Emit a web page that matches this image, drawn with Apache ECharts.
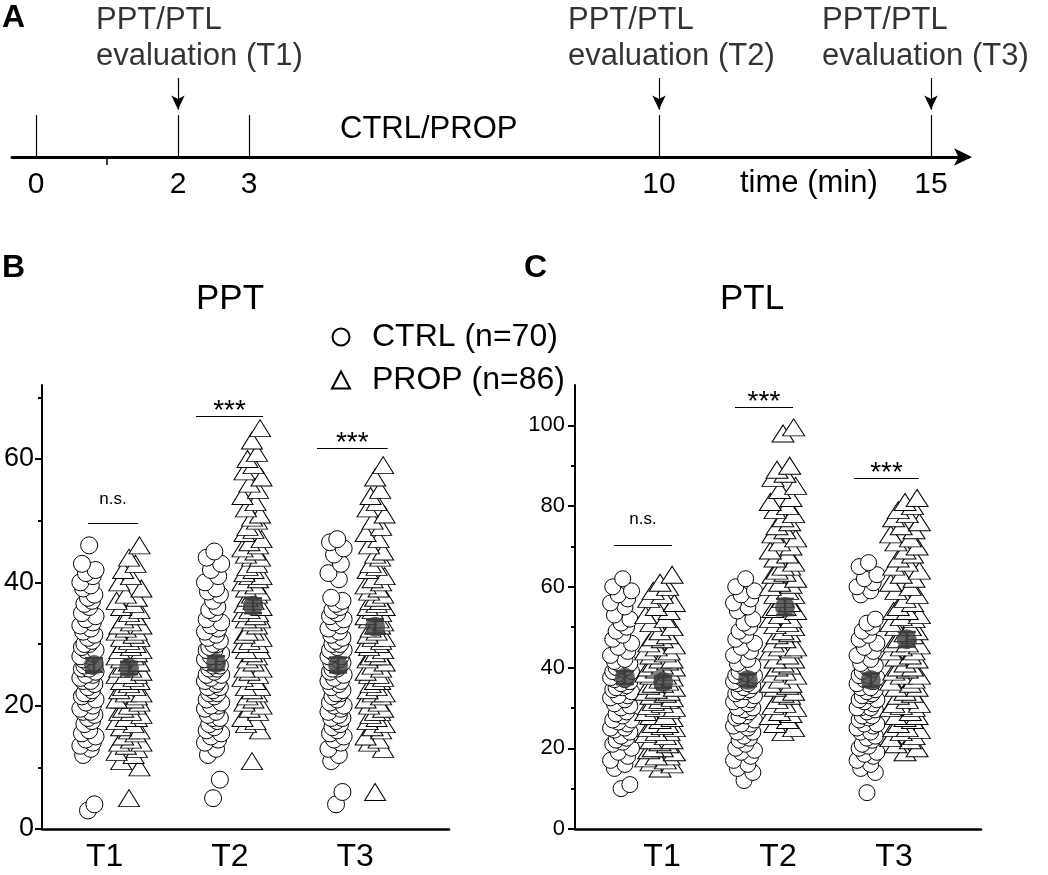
<!DOCTYPE html>
<html><head><meta charset="utf-8">
<script src="https://cdn.jsdelivr.net/npm/echarts@6/dist/echarts.min.js"></script>
<style>html,body{margin:0;padding:0;background:#fff}#c{width:1048px;height:875px}</style>
</head><body><div id="c"></div>
<script>
// ---------- DATA ----------
const timepoints = ['T1', 'T2', 'T3'];
const timelineTicks = [0, 2, 3, 10, 15];
const timelineMinor = [1];
const evalTimes = [2, 10, 15];
const evalLabels = ['PPT/PTL\nevaluation (T1)', 'PPT/PTL\nevaluation (T2)', 'PPT/PTL\nevaluation (T3)'];
const ctrlName = 'CTRL (n=70)';
const propName = 'PROP (n=86)';

const pptCtrlT1 = [3,4,12,13,13.5,14,14.5,15,15.5,16,17,17.5,18,18.5,19,19,19.5,20,20.5,21,21.5,22,22,22.5,23,23.5,24,24,24.5,25,25,25.5,26,26,26.5,26.5,27,27,27.5,28,28,28.5,29,29,29.5,30,30,30.5,31,31.5,32,32.5,33,33.5,34,34.5,35,36,36.5,37,37.5,38,39,39.5,40,41,41.5,42,43,46];
const pptPropT1 = [5,10,11,12,12.5,13,13.5,14,14,14.5,15,15.5,16,16,16.5,17,17.5,18,18,18.5,19,19,19.5,20,20,20.5,21,21,21.5,22,22,22.5,23,23,23.5,24,24,24.5,25,25,25.5,26,26,26.5,27,27,27.5,28,28,28.5,29,29,29.5,30,30,30.5,31,31,31.5,32,32,32.5,33,33.5,34,34.5,35,35.5,36,36.5,37,37.5,38,39,40,41,42,43,44,46,29,25,23,21,27,33];
const pptCtrlT2 = [5,8,12,13,14,14.5,15,15.5,16,16.5,17,17.5,18,18,18.5,19,19.5,20,20,20.5,21,21.5,22,22,22.5,23,23.5,24,24,24.5,25,25,25.5,26,26,26.5,27,27,27.5,28,28,28.5,29,29,29.5,30,30,30.5,31,31.5,32,32.5,33,33.5,34,35,35.5,36,37,38,38.5,39,40,41,42,43,44,45,26.5,23];
const pptPropT2 = [11,16,17,17.5,18,19,19.5,20,20.5,21,21.5,22,22.5,23,23,24,24.5,25,25.5,26,26,27,27.5,28,28.5,29,29,30,30,30.5,31,31.5,32,32,33,33.5,34,34,34.5,35,35,35.5,36,36.5,37,37.5,38,38,38.5,39,39.5,40,40.5,41,41,41.5,42,42.5,43,44,44,44.5,45,45.5,46,46.5,47,48,48.5,49,50,50.5,51,52,53,54,55,56,57,58,59,60,61,63,65,30];
const pptCtrlT3 = [4,6,11,12,13,14,14.5,15,15.5,16,16.5,17,17.5,18,18,18.5,19,19.5,20,20,20.5,21,21.5,22,22,22.5,23,23.5,24,24,24.5,25,25.5,26,26,26.5,27,27,27.5,28,28,28.5,29,29.5,30,30,30.5,31,31.5,32,32.5,33,33.5,34,34.5,35,35.5,36,36.5,37,37.5,40.5,41.5,43,44.5,45.5,46.5,47,26.5,29];
const pptPropT3 = [6,13,14,14.5,15,16,16.5,17,17.5,18,18.5,19,19.5,20,20.5,21,21.5,22,22.5,23,23.5,24,24,24.5,25,25.5,26,26.5,27,27.5,28,28,28.5,29,29.5,30,30,30.5,31,31.5,32,32.5,33,33,33.5,34,34.5,35,35.5,36,36,36.5,37,37.5,38,38.5,39,39.5,40,40.5,41,42,42.5,43,44,44.5,45,46,47,48,49,50,51,52,53,54,55,57,59,25,31,34,37,22,19,28];

const ptlCtrlT1 = [10,11,15,16,17,18,19,20,21,21.5,22,22.5,23,24,24.5,25,25,26,26.5,27,27,28,28.5,29,30,30.5,31,32,32.5,33,33,34,34.5,35,35,35.5,36,36.5,37,37,37.5,38,38.5,39,39,39.5,40,40,40.5,41,41.5,42,43,44,45,46,47,48,49,50,51,52,53,55,56,57,58,59,60,62];
const ptlPropT1 = [15,16,16.5,17,17.5,18,18,19,19.5,20,20,21,21.5,22,22,23,23.5,24,24,25,25,25.5,26,26,27,27.5,28,28,29,29.5,30,30,30.5,31,31.5,32,32,32.5,33,33.5,34,34,34.5,35,35.5,36,36,36.5,37,37.5,38,38,38.5,39,39.5,40,40,40.5,41,41.5,42,42,43,43.5,44,44,45,45.5,46,47,47.5,48,49,50,51,52,53,54,55,56,57,58,59,60,61,63];
const ptlCtrlT2 = [12,14,15,16,17,18,19,19.5,20,21,22,22.5,23,24,24,25,25.5,26,26,27,27.5,28,28,29,29.5,30,30,31,31.5,32,32,33,33.5,34,34,34.5,35,35.5,36,36,36.5,37,37.5,38,38,38.5,39,40,40,40.5,41,42,43,44,45,46,47,48,49,50,51,52,54,55,56,57,58,59,60,62];
const ptlPropT2 = [24,25,26,27,28,28.5,29,30,30.5,31,32,33,33.5,34,35,35.5,36,37,38,38.5,39,40,40.5,41,42,43,44,44.5,45,46,47,48,48.5,49,50,50.5,51,52,53,54,54.5,55,56,57,58,59,60,60.5,61,62,63,63.5,64,65,66,67,68,69,70,71,72,73,74,75,76,77,78,79,80,81,82,84,85,87,88,89,90,98,99.5,45,52,36,58,65,42,55];
const ptlCtrlT3 = [9,14,15,16,17,18,18.5,19,20,20.5,21,22,22.5,23,24,24,25,25.5,26,26,27,27.5,28,28,29,29.5,30,30,31,31.5,32,32,33,33.5,34,34.5,35,35,36,36.5,37,37.5,38,38,39,39.5,40,40.5,41,42,43,44,45,46,47,48,49,50,51,52,58,59,60,61,62,63,65,66,33,30];
const ptlPropT3 = [19,20,21,22,22.5,23,24,24.5,25,26,27,27.5,28,29,30,30.5,31,32,33,33.5,34,35,36,36.5,37,38,39,39.5,40,41,42,42.5,43,44,45,45.5,46,47,48,48.5,49,50,51,52,52.5,53,54,55,56,57,58,59,60,61,62,63,64,65,66,67,68,69,70,71,72,73,74,75,76,77,78,79,80,81,82,28,35,40,44,50,25,31,46,38,54,30];

// means and SEM
const pptCtrlMean = [26.6, 26.9, 26.6];
const pptPropMean = [26.1, 36.2, 32.8];
const pptCtrlSem = [1.1, 1.1, 1.2];
const pptPropSem = [1.0, 1.2, 1.1];
const ptlCtrlMean = [37.5, 36.9, 36.9];
const ptlPropMean = [36.4, 55.0, 47.0];
const ptlCtrlSem = [1.6, 1.5, 1.6];
const ptlPropSem = [1.4, 2.0, 1.8];

const pptSigText = ['n.s.', '***', '***'];
const pptSigLevel = [49.6, 67.0, 61.8];
const ptlSigText = ['n.s.', '***', '***'];
const ptlSigLevel = [70.4, 104.5, 87.0];

// ---------- LAYOUT ----------
const FONT = 'Liberation Sans, Arial, sans-serif';
const jitterPattern = [0, 0.8, -0.6, 0.35, -0.95, 0.6, -0.25, 0.95, -0.75, 0.15, -0.45, 0.5];
const layoutB = {
  ctrlX: [0.867, 1.866, 2.848], ctrlHW: [0.064, 0.068, 0.064],
  propX: [1.195, 2.177, 3.16], propHW: [0.104, 0.08, 0.08],
  ctrlMeanX: [0.915, 1.89, 2.864], propMeanX: [1.195, 2.185, 3.16],
  sigX: [[0.867, 1.267], [1.73, 2.265], [2.696, 3.26]],
  sigDist: [15, -9, -9]
};
const layoutC = {
  ctrlX: [0.647, 1.707, 2.767], ctrlHW: [0.095, 0.095, 0.09],
  propX: [0.983, 2.043, 3.095], propHW: [0.13, 0.115, 0.13],
  ctrlMeanX: [0.68, 1.74, 2.80], propMeanX: [1.01, 2.06, 3.11],
  sigX: [[0.586, 1.086], [1.629, 2.129], [2.655, 3.216]],
  sigDist: [17, -9, -9]
};
const timelineRanges = [[0, 3], [3, 10], [10, 15]];
const evalLabelDx = [-82, -91, -109];

function swarm(values, cx, hw) {
  const s = values.slice().sort((a, b) => a - b);
  return s.map((v, i) => [cx + jitterPattern[i % jitterPattern.length] * hw, v]);
}

const chart = echarts.init(document.getElementById('c'), null, {renderer: 'canvas'});

const grids = [
  {left: 12, width: 956, top: 78, height: 79},   // 0 arrow
  {left: 36, width: 213, top: 78, height: 79},   // 1 0..3
  {left: 249, width: 410, top: 78, height: 79},  // 2 3..10
  {left: 659, width: 272, top: 78, height: 79},  // 3 10..15
  {left: 42, right: 599, top: 385, bottom: 46},  // 4 PPT
  {left: 575, right: 67, top: 385, bottom: 46}   // 5 PTL
];

const hiddenY = i => ({gridIndex: i, type: 'value', min: 0, max: 1, show: false});
const xAxes = [
  {gridIndex: 0, type: 'value', min: 0, max: 1,
   axisLine: {show: true, lineStyle: {color: '#000', width: 3}, symbol: ['none', 'arrow'], symbolSize: [13, 18], symbolOffset: [0, 4]},
   axisTick: {show: false}, axisLabel: {show: false}, splitLine: {show: false}}
];
timelineRanges.forEach((r, k) => {
  const labs = timelineTicks.filter(t => k === 0 ? (t >= r[0] && t <= r[1]) : (t > r[0] && t <= r[1]));
  const mins = timelineMinor.filter(t => t > r[0] && t < r[1]);
  xAxes.push({gridIndex: k + 1, type: 'value', min: r[0], max: r[1],
    axisLine: {show: false},
    axisTick: {show: mins.length > 0, customValues: mins, length: 8, lineStyle: {color: '#000', width: 1.5}},
    axisLabel: {show: labs.length > 0, customValues: labs, fontSize: 30, fontFamily: FONT, color: '#000', margin: 13},
    splitLine: {show: false}});
});
const catFmt = v => timepoints[Math.round(v) - 1] || '';
xAxes.push({gridIndex: 4, type: 'value', min: 0.5, max: 3.75,
  axisLine: {lineStyle: {color: '#000', width: 2.5}}, axisTick: {show: false},
  axisLabel: {customValues: [1, 2, 3], formatter: catFmt, fontSize: 32, fontFamily: FONT, color: '#000', margin: 12},
  splitLine: {show: false}});
xAxes.push({gridIndex: 5, type: 'value', min: 0.25, max: 3.75,
  axisLine: {lineStyle: {color: '#000', width: 2.5}}, axisTick: {show: false},
  axisLabel: {customValues: [1, 2, 3], formatter: catFmt, fontSize: 32, fontFamily: FONT, color: '#000', margin: 12},
  splitLine: {show: false}});

const yAxes = [hiddenY(0), hiddenY(1), hiddenY(2), hiddenY(3)];
yAxes.push({gridIndex: 4, type: 'value', min: 0, max: 72, position: 'left',
  axisLine: {show: true, lineStyle: {color: '#000', width: 2}},
  axisTick: {show: true, customValues: [0, 20, 40, 60], length: 7, lineStyle: {color: '#000', width: 2}},
  axisLabel: {customValues: [0, 20, 40, 60], fontSize: 27, fontFamily: FONT, color: '#000', margin: 8},
  splitLine: {show: false}});
yAxes.push({gridIndex: 5, type: 'value', min: 0, max: 110, position: 'left',
  axisLine: {show: true, lineStyle: {color: '#000', width: 2}},
  axisTick: {show: true, customValues: [0, 20, 40, 60, 80, 100], length: 7, lineStyle: {color: '#000', width: 2}},
  axisLabel: {customValues: [0, 20, 40, 60, 80, 100], fontSize: 22, fontFamily: FONT, color: '#000', margin: 10},
  splitLine: {show: false}});
yAxes.push({gridIndex: 4, type: 'value', min: 0, max: 72, position: 'left', offset: 0, axisLine: {show: false},
  axisTick: {show: true, customValues: [10, 30, 50, 70], length: 4, lineStyle: {color: '#000', width: 2}},
  axisLabel: {show: false}, splitLine: {show: false}});
yAxes.push({gridIndex: 5, type: 'value', min: 0, max: 110, position: 'left', offset: 0, axisLine: {show: false},
  axisTick: {show: true, customValues: [10, 30, 50, 70, 90], length: 4, lineStyle: {color: '#000', width: 2}},
  axisLabel: {show: false}, splitLine: {show: false}});

const series = [];
// timeline marks
timelineRanges.forEach((r, k) => {
  const inR = t => k === 0 ? (t >= r[0] && t <= r[1]) : (t > r[0] && t <= r[1]);
  const marks = timelineTicks.filter(inR);
  const evs = evalTimes.map((t, i) => ({t, i})).filter(e => inR(e.t));
  const mlData = marks.map(t => [{coord: [t, 0]}, {coord: [t, 0.53]}]);
  evs.forEach(e => mlData.push([{coord: [e.t, 0.6], symbol: 'arrow'}, {coord: [e.t, 1]}]));
  series.push({
    type: 'scatter', xAxisIndex: k + 1, yAxisIndex: k + 1, silent: true,
    symbolSize: 0,
    data: evs.map(e => ({value: [e.t, 1], label: {offset: [evalLabelDx[e.i], 0], formatter: evalLabels[e.i]}})),
    label: {show: true, position: 'top', align: 'left', distance: 4, fontSize: 31, lineHeight: 36, fontFamily: FONT, color: '#000'},
    markLine: {silent: true, symbol: ['none', 'none'], symbolSize: [10, 14],
      lineStyle: {color: '#000', width: 1.2, type: 'solid'}, label: {show: false}, emphasis: {disabled: true},
      data: mlData}
  });
});

function panelSeries(axisIdx, L, ctrl, prop, cMean, pMean, cSem, pSem, sigText, sigLevel, symC, symP) {
  ctrl.forEach((vals, i) => series.push({
    name: ctrlName, type: 'scatter', xAxisIndex: axisIdx, yAxisIndex: axisIdx,
    symbol: 'circle', symbolSize: symC, data: swarm(vals, L.ctrlX[i], L.ctrlHW[i]),
    itemStyle: {color: '#fff', borderColor: '#000', borderWidth: 1, opacity: 1}, z: 2
  }));
  prop.forEach((vals, i) => series.push({
    name: propName, type: 'scatter', xAxisIndex: axisIdx, yAxisIndex: axisIdx,
    symbol: 'triangle', symbolSize: symP, data: swarm(vals, L.propX[i], L.propHW[i]),
    itemStyle: {color: '#fff', borderColor: '#000', borderWidth: 1, opacity: 1}, z: 2
  }));
  const mData = [];
  cMean.forEach((m, i) => mData.push([L.ctrlMeanX[i], m, cSem[i]]));
  pMean.forEach((m, i) => mData.push([L.propMeanX[i], m, pSem[i]]));
  series.push({
    type: 'custom', xAxisIndex: axisIdx, yAxisIndex: axisIdx, silent: true, z: 5,
    encode: {x: 0, y: 1}, data: mData,
    renderItem: (params, api) => {
      const x = api.value(0), m = api.value(1), s = api.value(2);
      const t = api.coord([x, m + s]), b = api.coord([x, m - s]);
      const hw = 9, st = {stroke: '#3d3d3d', lineWidth: 2.5};
      return {type: 'group', children: [
        {type: 'line', shape: {x1: t[0], y1: t[1], x2: b[0], y2: b[1]}, style: st},
        {type: 'line', shape: {x1: t[0] - hw, y1: t[1], x2: t[0] + hw, y2: t[1]}, style: st},
        {type: 'line', shape: {x1: b[0] - hw, y1: b[1], x2: b[0] + hw, y2: b[1]}, style: st}
      ]};
    }
  });
  series.push({
    type: 'scatter', xAxisIndex: axisIdx, yAxisIndex: axisIdx, silent: true, z: 6,
    symbol: 'circle', symbolSize: 20, itemStyle: {color: '#3d3d3d'},
    data: mData.map(d => [d[0], d[1]]),
    markLine: {silent: true, symbol: ['none', 'none'], emphasis: {disabled: true},
      lineStyle: {color: '#000', width: 1, type: 'solid'},
      label: {show: true, position: 'insideMiddleTop', formatter: '{b}', color: '#000', fontFamily: FONT},
      data: sigText.map((txt, i) => [
        {name: txt, coord: [L.sigX[i][0], sigLevel[i]],
         label: {fontSize: txt === 'n.s.' ? 17 : 28, distance: L.sigDist[i]}},
        {coord: [L.sigX[i][1], sigLevel[i]]}
      ])}
  });
}

panelSeries(4, layoutB, [pptCtrlT1, pptCtrlT2, pptCtrlT3], [pptPropT1, pptPropT2, pptPropT3],
  pptCtrlMean, pptPropMean, pptCtrlSem, pptPropSem, pptSigText, pptSigLevel, 17, [21, 17]);
panelSeries(5, layoutC, [ptlCtrlT1, ptlCtrlT2, ptlCtrlT3], [ptlPropT1, ptlPropT2, ptlPropT3],
  ptlCtrlMean, ptlPropMean, ptlCtrlSem, ptlPropSem, ptlSigText, ptlSigLevel, 16, [22, 17]);

const txt = (text, left, top, size, extra) => Object.assign({type: 'text', left, top,
  style: {text, fontSize: size, fontFamily: FONT, fill: '#000'}}, extra || {});

chart.setOption({
  animation: false,
  backgroundColor: '#fff',
  grid: grids,
  xAxis: xAxes,
  yAxis: yAxes,
  legend: {
    show: true, orient: 'vertical', left: 326, top: 315, itemGap: 9,
    itemWidth: 18, itemHeight: 17, selectedMode: false,
    data: [{name: ctrlName, icon: 'circle'}, {name: propName, icon: 'triangle'}],
    textStyle: {fontSize: 32, fontFamily: FONT, color: '#000', lineHeight: 34, padding: [0, 0, 0, 17]}
  },
  graphic: [
    txt('A', 2, 2, 32, {style: {text: 'A', fontSize: 32, fontWeight: 'bold', fontFamily: FONT, fill: '#000'}}),
    txt('B', 2, 252, 32, {style: {text: 'B', fontSize: 32, fontWeight: 'bold', fontFamily: FONT, fill: '#000'}}),
    txt('C', 524, 252, 32, {style: {text: 'C', fontSize: 32, fontWeight: 'bold', fontFamily: FONT, fill: '#000'}}),
    txt('PPT', 196, 282, 35),
    txt('PTL', 720, 282, 35),
    txt('CTRL/PROP', 340, 114, 31),
    txt('time (min)', 740, 168, 31)
  ],
  series
});
</script></body></html>
